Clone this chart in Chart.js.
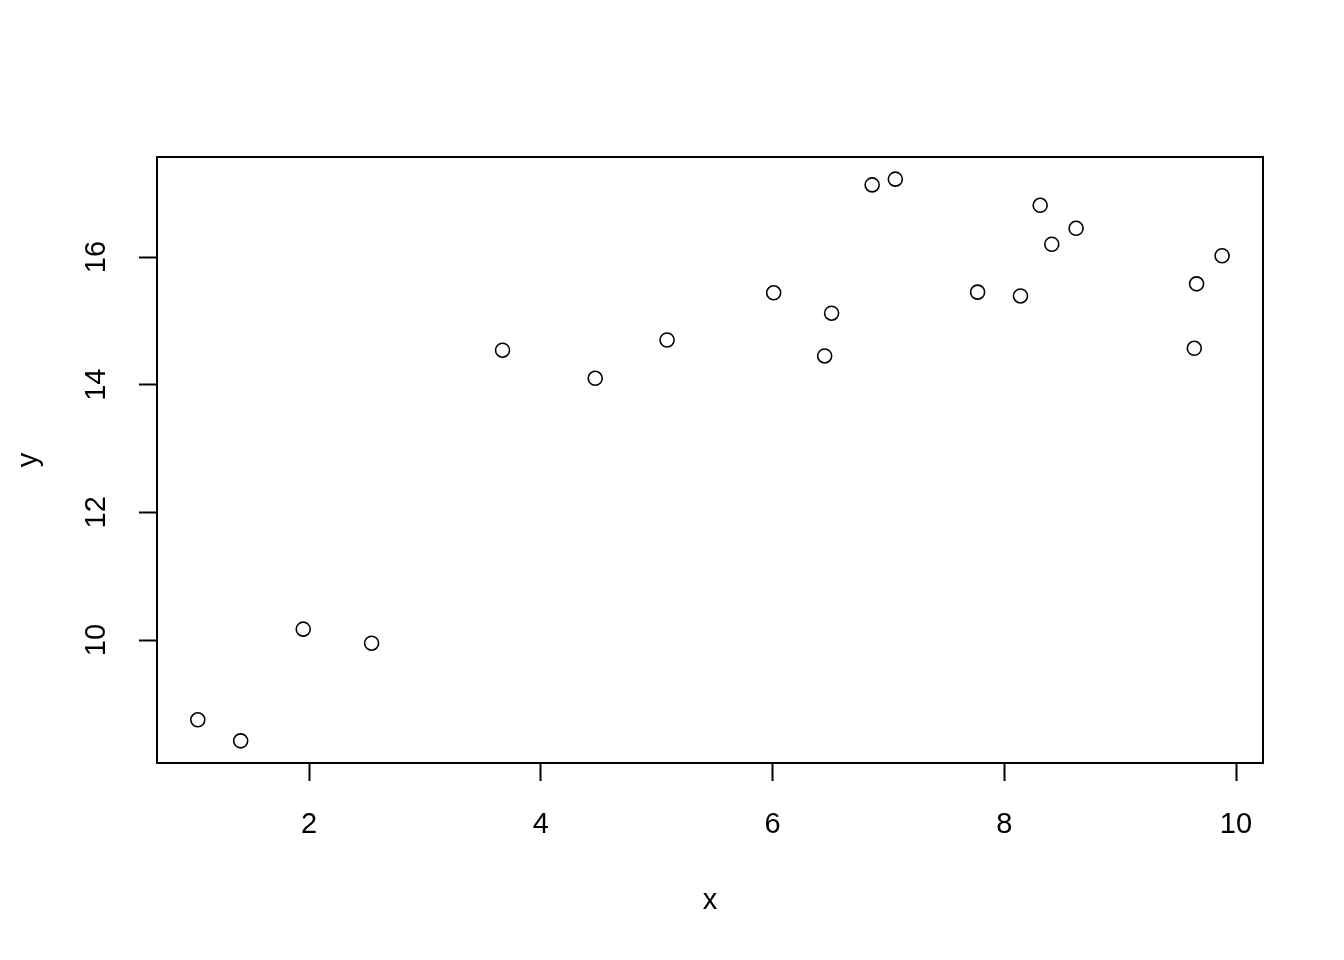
<!DOCTYPE html>
<html>
<head>
<meta charset="utf-8">
<style>
  html, body { margin: 0; padding: 0; background: #fff; }
  #wrap { width: 1344px; height: 960px; }
</style>
<script src="https://cdn.jsdelivr.net/npm/chart.js@4/dist/chart.umd.min.js"></script>
</head>
<body>
<div id="wrap"><canvas id="scatter" width="1344" height="960"></canvas></div>
<script>
// значення точок
var xs = [1.04, 1.41, 1.95, 2.54, 3.67, 4.47, 5.09, 6.01, 6.45, 6.51,
          6.86, 7.06, 7.77, 8.14, 8.31, 8.41, 8.62, 9.64, 9.66, 9.88];
var ys = [8.75, 8.42, 10.17, 9.95, 14.54, 14.10, 14.70, 15.44, 14.45, 15.12,
          17.13, 17.22, 15.45, 15.39, 16.81, 16.20, 16.45, 14.57, 15.58, 16.02];
var xTicks = [2, 4, 6, 8, 10];
var yTicks = [10, 12, 14, 16];

var points = xs.map(function(x, i) { return { x: x, y: ys[i] }; });

// рамка навколо області графіка
var boxPlugin = {
  id: 'box',
  afterDraw: function(chart) {
    var a = chart.chartArea, c = chart.ctx;
    c.save();
    c.strokeStyle = '#000';
    c.lineWidth = 2;
    c.strokeRect(a.left, a.top, a.right - a.left, a.bottom - a.top);
    c.restore();
  }
};

var font = { family: 'Arial, "Liberation Sans", sans-serif', size: 29 };

new Chart(document.getElementById('scatter').getContext('2d'), {
  type: 'scatter',
  data: {
    datasets: [{
      data: points,
      pointRadius: 7,
      pointHoverRadius: 7,
      pointBorderWidth: 1.6,
      pointBorderColor: '#000',
      pointBackgroundColor: 'rgba(0,0,0,0)'
    }]
  },
  options: {
    responsive: false,
    animation: false,
    layout: { padding: { left: 0, top: 157, right: 81, bottom: 0 } },
    plugins: { legend: { display: false }, tooltip: { enabled: false } },
    scales: {
      x: {
        type: 'linear',
        min: 0.688, max: 10.233,
        afterBuildTicks: function(s) { s.ticks = xTicks.map(function(v) { return { value: v }; }); },
        afterFit: function(s) { s.height = 197; },
        grid: { drawOnChartArea: false, drawTicks: true, tickLength: 18, tickWidth: 2, tickColor: '#000' },
        border: { display: false },
        ticks: { color: '#000', font: font, padding: 27, maxRotation: 0 },
        title: { display: true, text: 'x', color: '#000', font: font, padding: { top: 0, bottom: 42 } }
      },
      y: {
        type: 'linear',
        min: 8.073, max: 17.567,
        afterBuildTicks: function(s) { s.ticks = yTicks.map(function(v) { return { value: v }; }); },
        afterFit: function(s) { s.width = 157; },
        grid: { drawOnChartArea: false, drawTicks: true, tickLength: 18, tickWidth: 2, tickColor: '#000' },
        border: { display: false },
        ticks: { color: '#000', font: font, padding: 26, minRotation: 90, maxRotation: 90, crossAlign: 'center' },
        title: { display: true, text: 'y', color: '#000', font: font, padding: { top: 12, bottom: 0 } }
      }
    }
  },
  plugins: [boxPlugin]
});
</script>
</body>
</html>
